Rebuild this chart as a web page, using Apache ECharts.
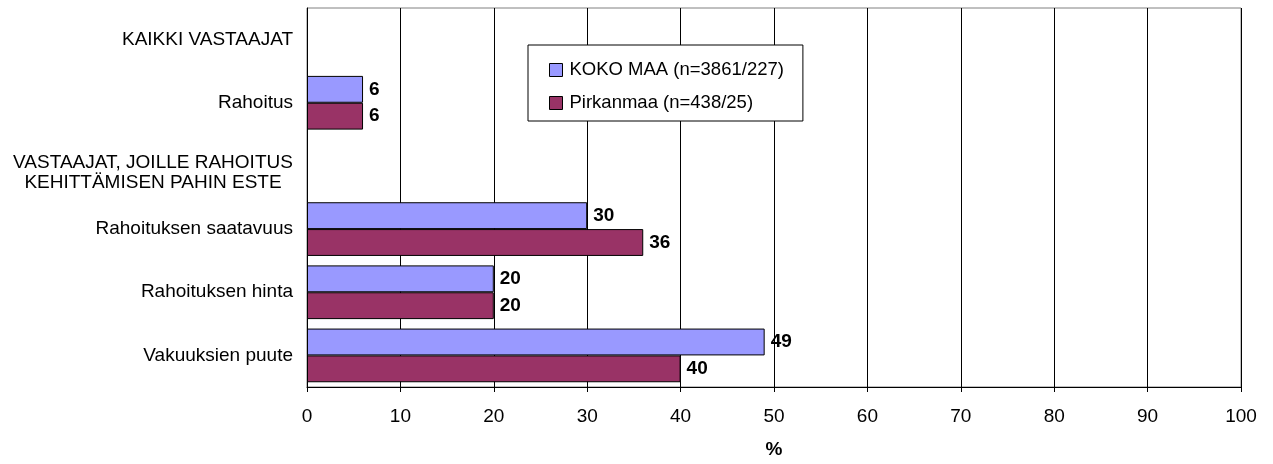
<!DOCTYPE html>
<html>
<head>
<meta charset="utf-8">
<script src="https://cdn.jsdelivr.net/npm/echarts@6/dist/echarts.min.js"></script>
<style>
html,body{margin:0;padding:0;background:#fff;}
#chart{width:1273px;height:464px;}
</style>
</head>
<body>
<div id="chart"></div>
<script>
const categories = ['KAIKKI VASTAAJAT', 'Rahoitus', 'VASTAAJAT, JOILLE RAHOITUS\nKEHITTÄMISEN PAHIN ESTE', 'Rahoituksen saatavuus', 'Rahoituksen hinta', 'Vakuuksien puute'];
const seriesNames = ['KOKO MAA (n=3861/227)', 'Pirkanmaa (n=438/25)'];
const kokoMaa = [null, 6, null, 30, 20, 49];
const pirkanmaa = [null, 6, null, 36, 20, 40];
const axisTitle = '%';

const FONT = "'Liberation Sans', Arial, sans-serif";
const FS = 19;
const chart = echarts.init(document.getElementById('chart'), null, {renderer: 'canvas'});

const labelStyle = {
  show: true, position: 'right', distance: 6,
  fontFamily: FONT, fontSize: FS, fontWeight: 'bold', color: '#000'
};

chart.setOption({
  animation: false,
  backgroundColor: '#fff',
  textStyle: {fontFamily: FONT},
  grid: {left: 307, right: 32, top: 8, bottom: 76, show: true, borderColor: '#808080', borderWidth: 1, backgroundColor: 'transparent'},
  legend: {
    orient: 'vertical', left: 528, top: 45,
    padding: [15, 19, 8, 21], itemGap: 13,
    itemWidth: 13, itemHeight: 13, icon: 'rect',
    backgroundColor: '#fff', borderColor: '#000', borderWidth: 1,
    itemStyle: {borderColor: '#000', borderWidth: 1},
    textStyle: {fontFamily: FONT, fontSize: 18.5, color: '#000', lineHeight: 20, padding: [0, 0, 0, 2]},
    data: seriesNames
  },
  xAxis: {
    type: 'value', min: 0, max: 100, interval: 10,
    name: axisTitle, nameLocation: 'middle', nameGap: 53,
    nameTextStyle: {fontFamily: FONT, fontSize: FS, fontWeight: 'bold', color: '#000'},
    axisLine: {show: true, lineStyle: {color: '#000', width: 1}},
    axisTick: {show: true, length: 5, lineStyle: {color: '#000'}},
    axisLabel: {margin: 20, fontFamily: FONT, fontSize: FS, color: '#000'},
    splitLine: {show: true, lineStyle: {color: '#000', width: 1}}
  },
  yAxis: {
    type: 'category', inverse: true, data: categories,
    axisLine: {show: true, lineStyle: {color: '#000', width: 1}},
    axisTick: {show: false},
    axisLabel: {
      margin: 14, fontFamily: FONT, fontSize: FS, color: '#000', interval: 0,
      formatter: function (v) {
        if (v.indexOf('\n') < 0) return v;
        return '{s| }\n' + v.split('\n').map(l => '{m|' + l + '}').join('\n');
      },
      rich: {
        s: {fontSize: 4, lineHeight: 14, fontFamily: FONT},
        m: {fontFamily: FONT, fontSize: FS, color: '#000', lineHeight: 20, width: 280, align: 'center'}
      }
    },
    splitLine: {show: false}
  },
  series: [
    {name: seriesNames[0], type: 'bar', data: kokoMaa, barGap: '0%', barCategoryGap: '15%',
     itemStyle: {color: '#9999FF', borderColor: '#000', borderWidth: 1}, label: labelStyle},
    {name: seriesNames[1], type: 'bar', data: pirkanmaa, barGap: '0%', barCategoryGap: '15%',
     itemStyle: {color: '#993366', borderColor: '#000', borderWidth: 1}, label: labelStyle}
  ]
});
</script>
</body>
</html>
